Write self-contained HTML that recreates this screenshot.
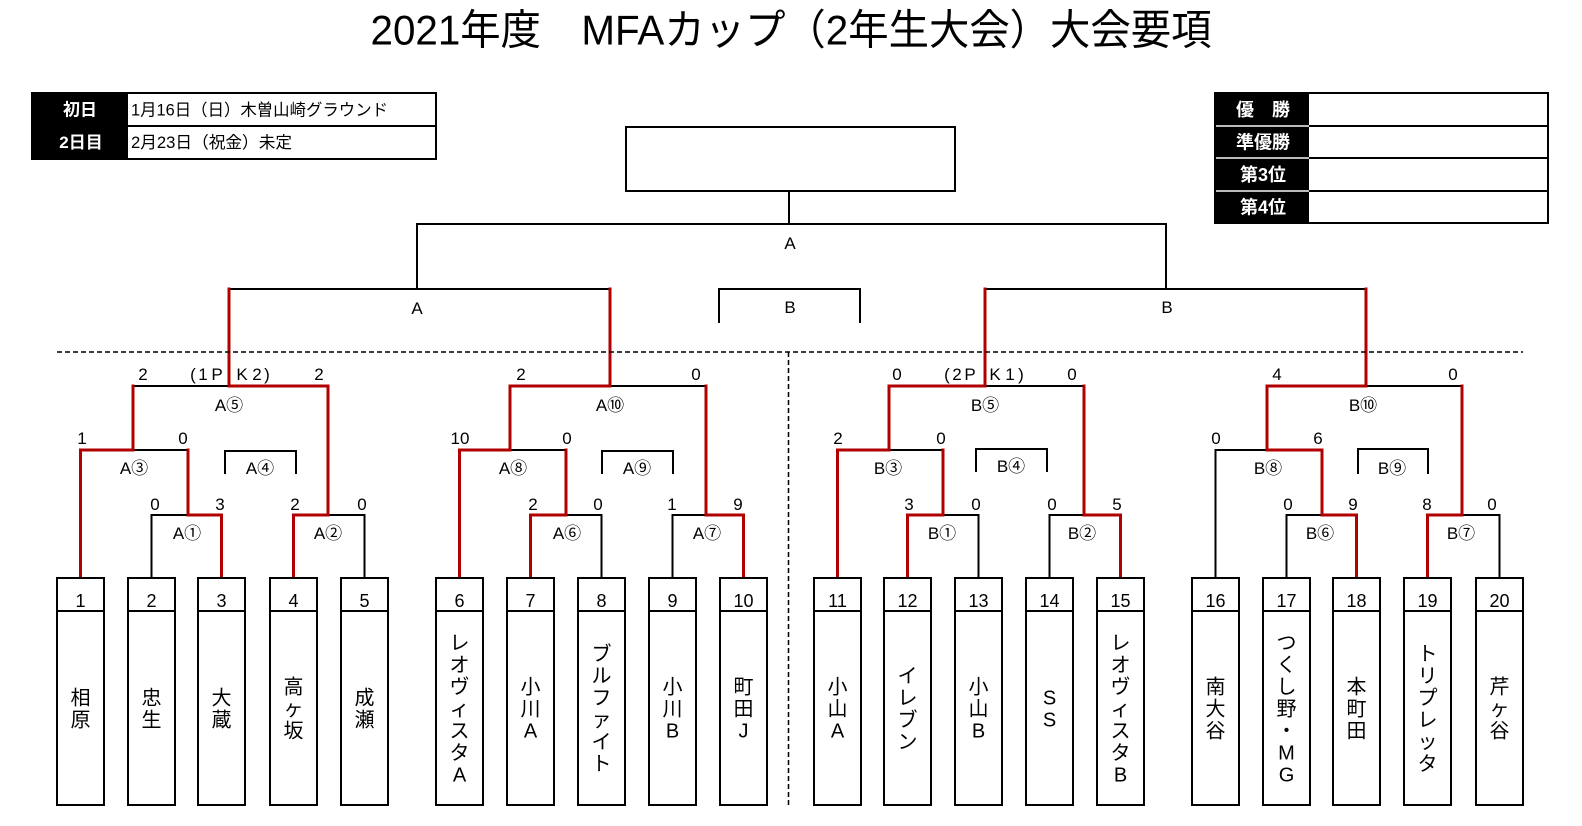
<!DOCTYPE html>
<html><head><meta charset="utf-8">
<style>
html,body{margin:0;padding:0;background:#fff;}
svg{display:block;}
text{font-family:"Liberation Sans","Noto Sans CJK JP",sans-serif;fill:#000;}
</style></head><body>
<svg width="1582" height="826" viewBox="0 0 1582 826" xmlns="http://www.w3.org/2000/svg">
<rect width="1582" height="826" fill="#fff"/>

<!-- Title -->
<text x="791" y="44.5" font-size="42" text-anchor="middle" textLength="841" lengthAdjust="spacingAndGlyphs">2021年度　MFAカップ（2年生大会）大会要項</text>

<!-- Left info table -->
<rect x="32" y="93" width="96" height="66" fill="#000"/>
<rect x="32" y="93" width="404" height="66" fill="none" stroke="#000" stroke-width="2"/>
<line x1="128" y1="126" x2="436" y2="126" stroke="#000" stroke-width="2"/>
<text x="80" y="115.5" font-size="17" font-weight="bold" text-anchor="middle" style="fill:#fff">初日</text>
<text x="81" y="148" font-size="17" font-weight="bold" text-anchor="middle" style="fill:#fff">2日目</text>
<text x="131" y="115.5" font-size="16.5" textLength="257" lengthAdjust="spacingAndGlyphs">1月16日（日）木曽山崎グラウンド</text>
<text x="131" y="148" font-size="16.5" textLength="161" lengthAdjust="spacingAndGlyphs">2月23日（祝金）未定</text>

<!-- Right results table -->
<rect x="1215" y="93" width="94" height="130" fill="#000"/>
<rect x="1215" y="93" width="333" height="130" fill="none" stroke="#000" stroke-width="2"/>
<g stroke-width="2">
<line x1="1309" y1="126" x2="1548" y2="126" stroke="#000"/>
<line x1="1309" y1="158" x2="1548" y2="158" stroke="#000"/>
<line x1="1309" y1="191" x2="1548" y2="191" stroke="#000"/>
<line x1="1216" y1="126" x2="1309" y2="126" stroke="#bbb"/>
<line x1="1216" y1="158" x2="1309" y2="158" stroke="#bbb"/>
<line x1="1216" y1="191" x2="1309" y2="191" stroke="#bbb"/>
</g>
<g font-size="18" font-weight="bold" text-anchor="middle" style="fill:#fff">
<text x="1263" y="116" style="fill:#fff">優　勝</text>
<text x="1263" y="148.5" style="fill:#fff">準優勝</text>
<text x="1263" y="181" style="fill:#fff">第3位</text>
<text x="1263" y="213.5" style="fill:#fff">第4位</text>
</g>

<!-- Top structure -->
<rect x="626" y="127" width="329" height="64" fill="none" stroke="#000" stroke-width="2"/>
<g fill="none" stroke="#000" stroke-width="2" stroke-linecap="square">
<path d="M789 191 V224"/>
<path d="M417 289 V224 H1166 V289"/>
<path d="M229 289 H610"/>
<path d="M719 322 V289 H860 V322"/>
<path d="M985 289 H1366"/>

<!-- A left -->
<path d="M151.5 578 V515 H188"/>
<path d="M328 515 H364.5 V578"/>
<path d="M133 450 H188"/>
<path d="M133 386 H229"/>
<path d="M225 473 V451 H296 V473"/>

<!-- A right -->
<path d="M566 515 H601.5 V578"/>
<path d="M672.5 578 V515 H706"/>
<path d="M510 450 H566"/>
<path d="M610 386 H706"/>
<path d="M602 473 V451 H673 V473"/>

<!-- B left -->
<path d="M943 515 H978.5 V578"/>
<path d="M1049.5 578 V515 H1084"/>
<path d="M889 450 H943"/>
<path d="M985 386 H1084"/>
<path d="M976 471 V449 H1047 V471"/>

<!-- B right -->
<path d="M1286.5 578 V515 H1322"/>
<path d="M1462 515 H1499.5 V578"/>
<path d="M1215.5 578 V450 H1267"/>
<path d="M1366 386 H1462"/>
<path d="M1358 473 V449 H1428 V473"/>
</g>

<!-- Red winner paths -->
<g fill="none" stroke="#b00000" stroke-width="3" stroke-linecap="square" stroke-linejoin="miter">
<path d="M221.5 577 V515 H188 V450"/>
<path d="M80.5 577 V450 H133 V386"/>
<path d="M229 289 V386 H328 V515 H293.5 V577"/>

<path d="M459.5 577 V450 H510 V386 H610 V289"/>
<path d="M530.5 577 V515 H566 V450"/>
<path d="M706 386 V515 H743.5 V577"/>

<path d="M837.5 577 V450 H889 V386 H985 V289"/>
<path d="M907.5 577 V515 H943 V450"/>
<path d="M1084 386 V515 H1120.5 V577"/>

<path d="M1356.5 577 V515 H1322 V450 H1267 V386 H1366 V289"/>
<path d="M1427.5 577 V515 H1462 V386"/>
</g>

<!-- Dashed separators -->
<g fill="none" stroke="#000" stroke-width="1.5" stroke-dasharray="5 3">
<path d="M57 352 H1523"/>
<path d="M788.5 352 V806"/>
</g>

<!-- Top labels -->
<g font-size="17" text-anchor="middle">
<text x="790" y="249">A</text>
<text x="417" y="314">A</text>
<text x="790" y="313">B</text>
<text x="1167" y="313">B</text>
</g>

<!-- Scores & match labels -->
<g font-size="17" text-anchor="middle">
<!-- A left -->
<text x="143" y="380">2</text>
<text x="193" y="380">(</text><text x="203" y="380">1</text><text x="217" y="380">P</text>
<text x="242" y="380">K</text><text x="257" y="380">2</text><text x="267" y="380">)</text>
<text x="319" y="380">2</text>
<text x="229" y="411">A⑤</text>
<text x="82" y="444">1</text>
<text x="183" y="444">0</text>
<text x="134" y="474">A③</text>
<text x="260" y="474">A④</text>
<text x="155" y="510">0</text>
<text x="220" y="510">3</text>
<text x="295" y="510">2</text>
<text x="362" y="510">0</text>
<text x="187" y="539">A①</text>
<text x="328" y="539">A②</text>

<!-- A right -->
<text x="521" y="380">2</text>
<text x="696" y="380">0</text>
<text x="610" y="411">A⑩</text>
<text x="460" y="444">10</text>
<text x="567" y="444">0</text>
<text x="513" y="474">A⑧</text>
<text x="637" y="474">A⑨</text>
<text x="533" y="510">2</text>
<text x="598" y="510">0</text>
<text x="672" y="510">1</text>
<text x="738" y="510">9</text>
<text x="567" y="539">A⑥</text>
<text x="707" y="539">A⑦</text>

<!-- B left -->
<text x="897" y="380">0</text>
<text x="947" y="380">(</text><text x="957" y="380">2</text><text x="970" y="380">P</text>
<text x="995" y="380">K</text><text x="1010" y="380">1</text><text x="1021" y="380">)</text>
<text x="1072" y="380">0</text>
<text x="985" y="411">B⑤</text>
<text x="838" y="444">2</text>
<text x="941" y="444">0</text>
<text x="888" y="474">B③</text>
<text x="1011" y="472">B④</text>
<text x="909" y="510">3</text>
<text x="976" y="510">0</text>
<text x="1052" y="510">0</text>
<text x="1117" y="510">5</text>
<text x="942" y="539">B①</text>
<text x="1082" y="539">B②</text>

<!-- B right -->
<text x="1277" y="380">4</text>
<text x="1453" y="380">0</text>
<text x="1363" y="411">B⑩</text>
<text x="1216" y="444">0</text>
<text x="1318" y="444">6</text>
<text x="1268" y="474">B⑧</text>
<text x="1392" y="474">B⑨</text>
<text x="1288" y="510">0</text>
<text x="1353" y="510">9</text>
<text x="1427" y="510">8</text>
<text x="1492" y="510">0</text>
<text x="1320" y="539">B⑥</text>
<text x="1461" y="539">B⑦</text>
</g>

<!-- Team boxes -->
<g fill="#fff" stroke="#000" stroke-width="2">
<rect x="57" y="578" width="47" height="227"/>
<rect x="128" y="578" width="47" height="227"/>
<rect x="198" y="578" width="47" height="227"/>
<rect x="270" y="578" width="47" height="227"/>
<rect x="341" y="578" width="47" height="227"/>
<rect x="436" y="578" width="47" height="227"/>
<rect x="507" y="578" width="47" height="227"/>
<rect x="578" y="578" width="47" height="227"/>
<rect x="649" y="578" width="47" height="227"/>
<rect x="720" y="578" width="47" height="227"/>
<rect x="814" y="578" width="47" height="227"/>
<rect x="884" y="578" width="47" height="227"/>
<rect x="955" y="578" width="47" height="227"/>
<rect x="1026" y="578" width="47" height="227"/>
<rect x="1097" y="578" width="47" height="227"/>
<rect x="1192" y="578" width="47" height="227"/>
<rect x="1263" y="578" width="47" height="227"/>
<rect x="1333" y="578" width="47" height="227"/>
<rect x="1404" y="578" width="47" height="227"/>
<rect x="1476" y="578" width="47" height="227"/>
</g>
<g stroke="#000" stroke-width="2">
<line x1="57" y1="611" x2="104" y2="611"/>
<line x1="128" y1="611" x2="175" y2="611"/>
<line x1="198" y1="611" x2="245" y2="611"/>
<line x1="270" y1="611" x2="317" y2="611"/>
<line x1="341" y1="611" x2="388" y2="611"/>
<line x1="436" y1="611" x2="483" y2="611"/>
<line x1="507" y1="611" x2="554" y2="611"/>
<line x1="578" y1="611" x2="625" y2="611"/>
<line x1="649" y1="611" x2="696" y2="611"/>
<line x1="720" y1="611" x2="767" y2="611"/>
<line x1="814" y1="611" x2="861" y2="611"/>
<line x1="884" y1="611" x2="931" y2="611"/>
<line x1="955" y1="611" x2="1002" y2="611"/>
<line x1="1026" y1="611" x2="1073" y2="611"/>
<line x1="1097" y1="611" x2="1144" y2="611"/>
<line x1="1192" y1="611" x2="1239" y2="611"/>
<line x1="1263" y1="611" x2="1310" y2="611"/>
<line x1="1333" y1="611" x2="1380" y2="611"/>
<line x1="1404" y1="611" x2="1451" y2="611"/>
<line x1="1476" y1="611" x2="1523" y2="611"/>
</g>

<!-- Team numbers -->
<g font-size="18" text-anchor="middle">
<text x="80.5" y="607">1</text>
<text x="151.5" y="607">2</text>
<text x="221.5" y="607">3</text>
<text x="293.5" y="607">4</text>
<text x="364.5" y="607">5</text>
<text x="459.5" y="607">6</text>
<text x="530.5" y="607">7</text>
<text x="601.5" y="607">8</text>
<text x="672.5" y="607">9</text>
<text x="743.5" y="607">10</text>
<text x="837.5" y="607">11</text>
<text x="907.5" y="607">12</text>
<text x="978.5" y="607">13</text>
<text x="1049.5" y="607">14</text>
<text x="1120.5" y="607">15</text>
<text x="1215.5" y="607">16</text>
<text x="1286.5" y="607">17</text>
<text x="1356.5" y="607">18</text>
<text x="1427.5" y="607">19</text>
<text x="1499.5" y="607">20</text>
</g>

<!-- Team names (vertical) -->
<g font-size="20" text-anchor="middle">
<text><tspan x="80.5" y="704.5">相</tspan><tspan x="80.5" y="726.5">原</tspan></text>
<text><tspan x="151.5" y="704.5">忠</tspan><tspan x="151.5" y="726.5">生</tspan></text>
<text><tspan x="221.5" y="704.5">大</tspan><tspan x="221.5" y="726.5">蔵</tspan></text>
<text><tspan x="293.5" y="693.5">高</tspan><tspan x="293.5" y="715.5">ヶ</tspan><tspan x="293.5" y="737.5">坂</tspan></text>
<text><tspan x="364.5" y="704.5">成</tspan><tspan x="364.5" y="726.5">瀬</tspan></text>

<text><tspan x="459.5" y="649.5">レ</tspan><tspan x="459.5" y="671.5">オ</tspan><tspan x="459.5" y="693.5">ヴ</tspan><tspan x="459.5" y="715.5">ィ</tspan><tspan x="459.5" y="737.5">ス</tspan><tspan x="459.5" y="759.5">タ</tspan><tspan x="459.5" y="781.5">A</tspan></text>
<text><tspan x="530.5" y="693.5">小</tspan><tspan x="530.5" y="715.5">川</tspan><tspan x="530.5" y="737.5">A</tspan></text>
<text><tspan x="601.5" y="660.5">ブ</tspan><tspan x="601.5" y="682.5">ル</tspan><tspan x="601.5" y="704.5">フ</tspan><tspan x="601.5" y="726.5">ァ</tspan><tspan x="601.5" y="748.5">イ</tspan><tspan x="601.5" y="770.5">ト</tspan></text>
<text><tspan x="672.5" y="693.5">小</tspan><tspan x="672.5" y="715.5">川</tspan><tspan x="672.5" y="737.5">B</tspan></text>
<text><tspan x="743.5" y="693.5">町</tspan><tspan x="743.5" y="715.5">田</tspan><tspan x="743.5" y="737.5">J</tspan></text>

<text><tspan x="837.5" y="693.5">小</tspan><tspan x="837.5" y="715.5">山</tspan><tspan x="837.5" y="737.5">A</tspan></text>
<text><tspan x="907.5" y="682.5">イ</tspan><tspan x="907.5" y="704.5">レ</tspan><tspan x="907.5" y="726.5">ブ</tspan><tspan x="907.5" y="748.5">ン</tspan></text>
<text><tspan x="978.5" y="693.5">小</tspan><tspan x="978.5" y="715.5">山</tspan><tspan x="978.5" y="737.5">B</tspan></text>
<text><tspan x="1049.5" y="704.5">S</tspan><tspan x="1049.5" y="726.5">S</tspan></text>
<text><tspan x="1120.5" y="649.5">レ</tspan><tspan x="1120.5" y="671.5">オ</tspan><tspan x="1120.5" y="693.5">ヴ</tspan><tspan x="1120.5" y="715.5">ィ</tspan><tspan x="1120.5" y="737.5">ス</tspan><tspan x="1120.5" y="759.5">タ</tspan><tspan x="1120.5" y="781.5">B</tspan></text>

<text><tspan x="1215.5" y="693.5">南</tspan><tspan x="1215.5" y="715.5">大</tspan><tspan x="1215.5" y="737.5">谷</tspan></text>
<text><tspan x="1286.5" y="649.5">つ</tspan><tspan x="1286.5" y="671.5">く</tspan><tspan x="1286.5" y="693.5">し</tspan><tspan x="1286.5" y="715.5">野</tspan><tspan x="1286.5" y="737.5">・</tspan><tspan x="1286.5" y="759.5">M</tspan><tspan x="1286.5" y="781.5">G</tspan></text>
<text><tspan x="1356.5" y="693.5">本</tspan><tspan x="1356.5" y="715.5">町</tspan><tspan x="1356.5" y="737.5">田</tspan></text>
<text><tspan x="1427.5" y="660.5">ト</tspan><tspan x="1427.5" y="682.5">リ</tspan><tspan x="1427.5" y="704.5">プ</tspan><tspan x="1427.5" y="726.5">レ</tspan><tspan x="1427.5" y="748.5">ッ</tspan><tspan x="1427.5" y="770.5">タ</tspan></text>
<text><tspan x="1499.5" y="693.5">芹</tspan><tspan x="1499.5" y="715.5">ヶ</tspan><tspan x="1499.5" y="737.5">谷</tspan></text>
</g>
</svg>
</body></html>
